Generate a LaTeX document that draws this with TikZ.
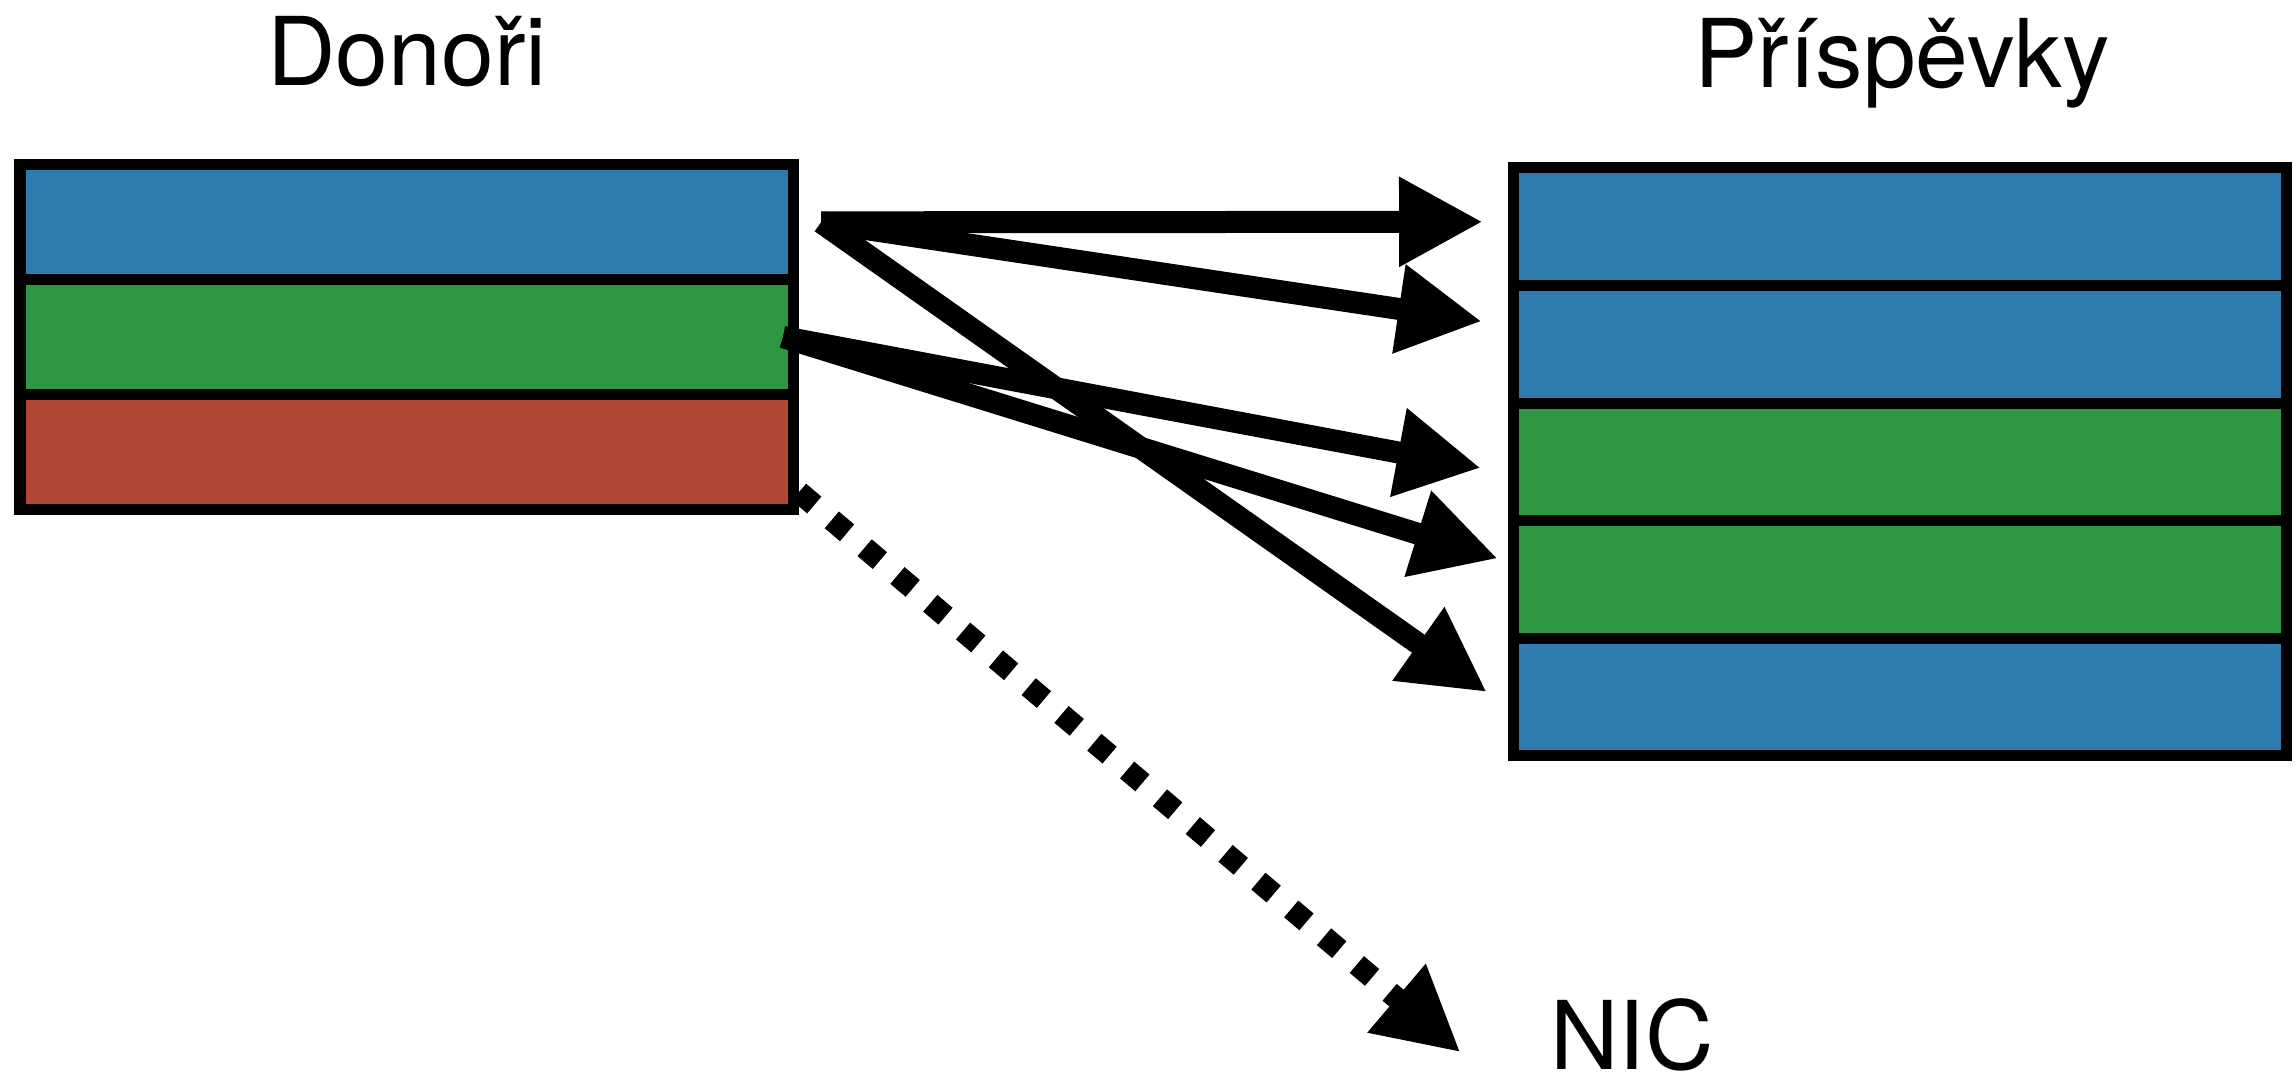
\documentclass[tikz,border=0pt]{standalone}
\usepackage{fontspec}
\setmainfont{TeX Gyre Heros}
\usetikzlibrary{positioning,arrows.meta}
\definecolor{rowblue}{RGB}{46,123,173}
\definecolor{rowgreen}{RGB}{46,151,66}
\definecolor{rowred}{RGB}{177,72,52}

\begin{document}
\begin{tikzpicture}[
  row/.style={draw=black, line width=0.11cm, rectangle, outer sep=0pt, inner sep=0pt, minimum width=7.73cm},
  lrow/.style={row, minimum height=1.147cm},
  rrow/.style={row, minimum height=1.176cm},
  conn/.style={line width=0.22cm, -{Triangle[length=0.84cm,width=0.84cm]}},
  title/.style={anchor=base, inner sep=0pt, font=\fontsize{27pt}{32pt}\selectfont}]
\useasboundingbox (0,0) rectangle (22.96,-10.78);
% Headings
\node[title] (donori) at (4.07,-0.86) {Donoři};
\node[title] (prispevky) at (19.02,-0.88) {Příspěvky};
\node[title] (nic) at (16.32,-10.69) {NIC};
% Donors
\node[lrow, fill=rowblue, anchor=north west] (d1) at (0.20,-1.65) {};
\node[lrow, fill=rowgreen, below=0pt of d1] (d2) {};
\node[lrow, fill=rowred, below=0pt of d2] (d3) {};
% Contributions
\node[rrow, fill=rowblue, anchor=north west] (p1) at (15.13,-1.68) {};
\node[rrow, fill=rowblue, below=0pt of p1] (p2) {};
\node[rrow, fill=rowgreen, below=0pt of p2] (p3) {};
\node[rrow, fill=rowgreen, below=0pt of p3] (p4) {};
\node[rrow, fill=rowblue, below=0pt of p4] (p5) {};
%
% Blue donor
\draw[conn] ([xshift=0.28cm]d1.east) -- ([xshift=-0.30cm,yshift=0.05cm]p1.west);
\draw[conn] ([xshift=0.28cm]d1.east) -- ([xshift=-0.31cm,yshift=0.23cm]p2.west);
\draw[conn] ([xshift=0.28cm]d1.east) -- ([xshift=-0.26cm,yshift=0.05cm]p5.west);
% Green donor
\draw[conn] ([xshift=-0.10cm]d2.east) -- ([xshift=-0.32cm,yshift=-0.06cm]p3.west);
\draw[conn] ([xshift=-0.10cm]d2.east) -- ([xshift=-0.15cm,yshift=0.21cm]p4.west);
% Red donor
\draw[conn, dash pattern=on 0.20cm off 0.23cm] ([xshift=0.06cm,yshift=0.17cm]d3.south east) -- ([xshift=-0.89cm,yshift=-0.18cm]nic.west);
\end{tikzpicture}
\end{document}
